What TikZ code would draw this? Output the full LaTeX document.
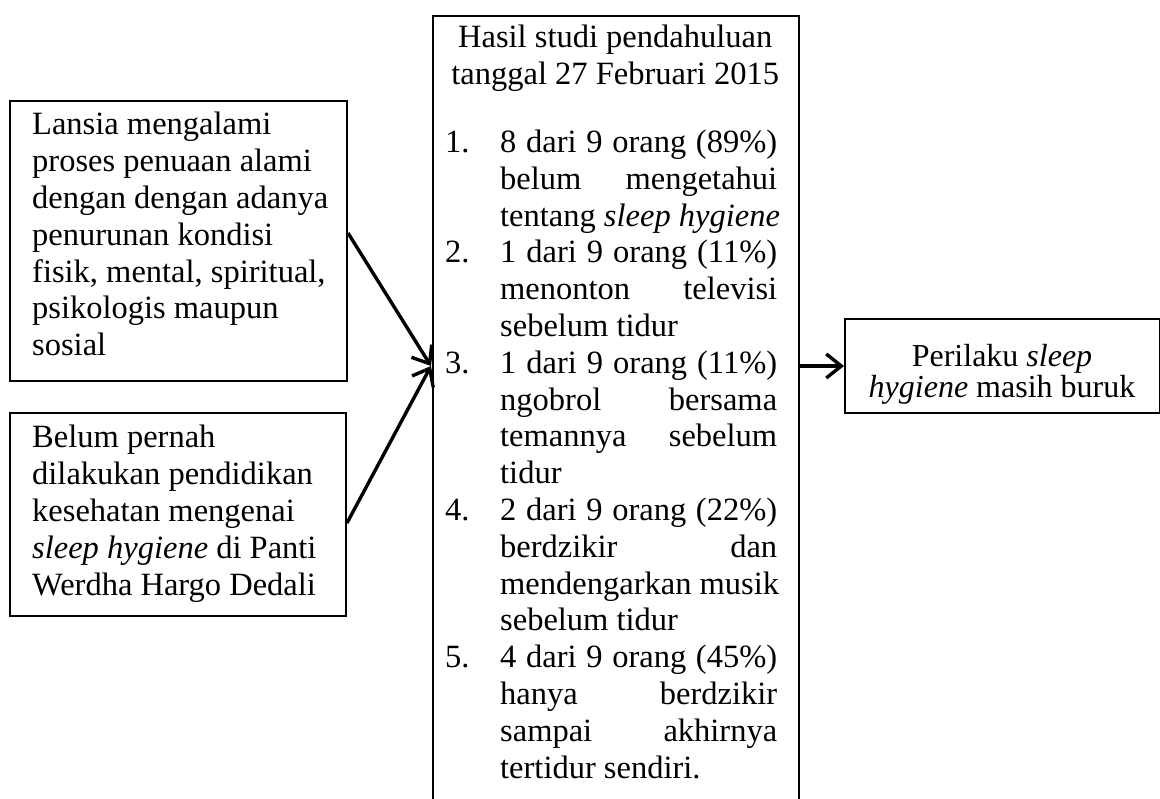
\documentclass[tikz,border=0pt]{standalone}
\usepackage{fontspec}
\setmainfont{Liberation Serif}
\usetikzlibrary{arrows.meta}
\newcommand{\fs}{\fontsize{32.5pt}{36.8pt}\selectfont}
\newcommand{\numl}[2]{\hspace*{13pt}\makebox[55pt][l]{#1}\makebox[277pt][s]{#2}\par}
\newcommand{\jline}[1]{\hspace*{68pt}\makebox[277pt][s]{#1}\par}
\newcommand{\lline}[1]{\hspace*{68pt}#1\par}
\tikzset{
  box/.style={draw, line width=2pt, inner sep=0pt},
  txt/.style={inner sep=0pt, anchor=base west},
  arr/.style={line width=3.4pt, -{Straight Barb[length=15pt,width=24pt]}}
}
\begin{document}
\begin{tikzpicture}[x=1pt,y=-1pt]
\useasboundingbox (0,0) rectangle (1160,799);
\clip (0,0) rectangle (1160,799);
\fill[white] (0,0) rectangle (1160,799);
% boxes
\node[box, minimum width=337pt, minimum height=280pt, anchor=north west] (b1) at (9,100) {};
\node[box, minimum width=336pt, minimum height=203pt, anchor=north west] (b2) at (9,412) {};
\node[box, minimum width=366pt, minimum height=830pt, anchor=north west] (cb) at (432,15) {};
\node[box, minimum width=315pt, minimum height=94pt, anchor=north west] (rb) at (844,318) {};
% texts
\node[txt] (t1) at (32,135) {\parbox[t]{310pt}{\fs\raggedright
Lansia mengalami\\
proses penuaan alami\\
dengan dengan adanya\\
penurunan kondisi\\
fisik, mental, spiritual,\\
psikologis maupun\\
sosial}};
\node[txt] (t2) at (32,448) {\parbox[t]{310pt}{\fs\raggedright
Belum pernah\\
dilakukan pendidikan\\
kesehatan mengenai\\
\textit{sleep hygiene} di Panti\\
Werdha Hargo Dedali}};
\node[txt] (t3) at (432,48) {\parbox[t]{366pt}{\fs\setlength{\parindent}{0pt}\setlength{\parskip}{0pt}%
\makebox[366pt][c]{Hasil studi pendahuluan}\par
\makebox[366pt][c]{tanggal 27 Februari 2015}\par
\vspace{31pt}%
\numl{1.}{8 dari 9 orang (89\%)}
\jline{belum mengetahui}
\lline{tentang \textit{sleep hygiene}}
\numl{2.}{1 dari 9 orang (11\%)}
\jline{menonton televisi}
\lline{sebelum tidur}
\numl{3.}{1 dari 9 orang (11\%)}
\jline{ngobrol bersama}
\jline{temannya sebelum}
\lline{tidur}
\numl{4.}{2 dari 9 orang (22\%)}
\jline{berdzikir dan}
\lline{mendengarkan musik}
\lline{sebelum tidur}
\numl{5.}{4 dari 9 orang (45\%)}
\jline{hanya berdzikir}
\jline{sampai akhirnya}
\lline{tertidur sendiri.}
}};
\node[inner sep=0pt, anchor=base] (t4) at (1002,367) {\parbox[t]{300pt}{\fontsize{32pt}{28pt}\selectfont\centering
Perilaku \textit{sleep}\\
\textit{hygiene} masih buruk}};
% connectors
\coordinate (m) at (431,366);
\draw[arr] ([yshift=8pt]b1.east) -- (m);
\draw[arr] ([yshift=-8.5pt]b2.east) -- (m);
\draw[arr] (rb.west -| cb.east) -- (rb.west);
\end{tikzpicture}
\end{document}
